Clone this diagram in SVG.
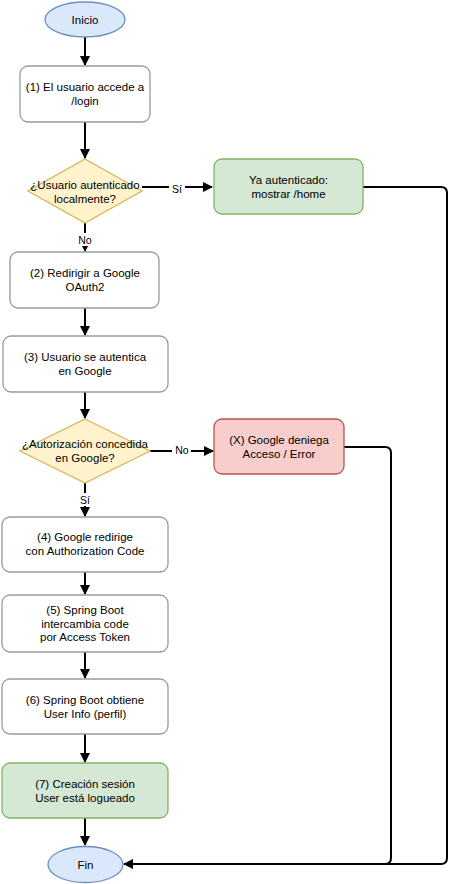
<svg xmlns="http://www.w3.org/2000/svg" width="455" height="884" viewBox="0 0 455 884">
<style>
text{font-family:"Liberation Sans",Arial,sans-serif;font-size:11.5px;fill:#000;text-anchor:middle;dominant-baseline:central}
.box{fill:#fff;stroke:#9a9a9a;stroke-width:1.3}
.green{fill:#d5e8d4;stroke:#82b366;stroke-width:1.3}
.red{fill:#f8cecc;stroke:#b85450;stroke-width:1.3}
.dia{fill:#fff2cc;stroke:#d6b656;stroke-width:1.3}
.term{fill:#dae8fc;stroke:#6c8ebf;stroke-width:1.3}
.edge{fill:none;stroke:#000;stroke-width:2}
.lbl{fill:#fff}
text.small{font-size:10.5px}
</style>
<defs>
<marker id="ah" viewBox="0 0 10 10" refX="9" refY="5" markerWidth="5" markerHeight="5" orient="auto" markerUnits="strokeWidth">
<path d="M0,0 L10,5 L0,10 z" fill="#000"/>
</marker>
</defs>
<g id="connectors">
<path class="edge" d="M85,37 V65" marker-end="url(#ah)"/>
<path class="edge" d="M85,122 V158" marker-end="url(#ah)"/>
<path class="edge" d="M142,187 H212" marker-end="url(#ah)"/>
<path class="edge" d="M85,223 V251" marker-end="url(#ah)"/>
<path class="edge" d="M85,308 V335" marker-end="url(#ah)"/>
<path class="edge" d="M85,392 V418" marker-end="url(#ah)"/>
<path class="edge" d="M150,451 H213" marker-end="url(#ah)"/>
<path class="edge" d="M85,483 V516" marker-end="url(#ah)"/>
<path class="edge" d="M85,572 V594" marker-end="url(#ah)"/>
<path class="edge" d="M85,652 V678" marker-end="url(#ah)"/>
<path class="edge" d="M85,734 V762" marker-end="url(#ah)"/>
<path class="edge" d="M85,818 V845" marker-end="url(#ah)"/>
<path class="edge" d="M363,187 H441 Q447,187 447,193 V858 Q447,864 441,864 H124" marker-end="url(#ah)"/>
<path class="edge" d="M344,447 H385 Q391,447 391,453 V858 Q391,864 385,864"/>
<rect class="lbl" x="169" y="182" width="16" height="14"/>
<text x="177" y="189" class="small">Sí</text>
<rect class="lbl" x="76" y="233" width="18" height="13"/>
<text x="85" y="240" class="small">No</text>
<rect class="lbl" x="172" y="444" width="19" height="13"/>
<text x="182" y="450" class="small">No</text>
<rect class="lbl" x="78" y="493" width="14" height="13"/>
<text x="85" y="500" class="small">Sí</text>
</g>
<g id="inicio">
<ellipse class="term" cx="85" cy="19.5" rx="40" ry="17.5"/>
<text x="85" y="19.5">Inicio</text>
</g>
<g id="step1">
<rect class="box" x="20" y="66" width="130" height="56" rx="8"/>
<text x="85" y="87">(1) El usuario accede a</text>
<text x="85" y="101">/login</text>
</g>
<g id="decision1">
<polygon class="dia" points="85,159 142,191 85,223 28,191"/>
<text x="85" y="185">¿Usuario autenticado</text>
<text x="85" y="199">localmente?</text>
</g>
<g id="ya-autenticado">
<rect class="green" x="214" y="159" width="149" height="55" rx="8"/>
<text x="288.5" y="180">Ya autenticado:</text>
<text x="288.5" y="194">mostrar /home</text>
</g>
<g id="step2">
<rect class="box" x="10" y="252" width="149" height="56" rx="8"/>
<text x="85" y="273">(2) Redirigir a Google</text>
<text x="85" y="287">OAuth2</text>
</g>
<g id="step3">
<rect class="box" x="3" y="336" width="165" height="56" rx="8"/>
<text x="85" y="357">(3) Usuario se autentica</text>
<text x="85" y="371">en Google</text>
</g>
<g id="decision2">
<polygon class="dia" points="85,419 150,451 85,483 20,451"/>
<text x="85" y="444">¿Autorización concedida</text>
<text x="85" y="458">en Google?</text>
</g>
<g id="error">
<rect class="red" x="214" y="419" width="130" height="55" rx="8"/>
<text x="279" y="440">(X) Google deniega</text>
<text x="279" y="454">Acceso / Error</text>
</g>
<g id="step4">
<rect class="box" x="2" y="517" width="166" height="55" rx="8"/>
<text x="85" y="537">(4) Google redirige</text>
<text x="85" y="551">con Authorization Code</text>
</g>
<g id="step5">
<rect class="box" x="2" y="595" width="166" height="57" rx="8"/>
<text x="85" y="610">(5) Spring Boot</text>
<text x="85" y="623.5">intercambia code</text>
<text x="85" y="637">por Access Token</text>
</g>
<g id="step6">
<rect class="box" x="2" y="679" width="166" height="55" rx="8"/>
<text x="85" y="700">(6) Spring Boot obtiene</text>
<text x="85" y="714">User Info (perfil)</text>
</g>
<g id="step7">
<rect class="green" x="2" y="763" width="166" height="55" rx="8"/>
<text x="85" y="784">(7) Creación sesión</text>
<text x="85" y="798">User está logueado</text>
</g>
<g id="fin">
<ellipse class="term" cx="85.5" cy="864.5" rx="37.5" ry="18"/>
<text x="85.5" y="864.5">Fin</text>
</g>
</svg>
